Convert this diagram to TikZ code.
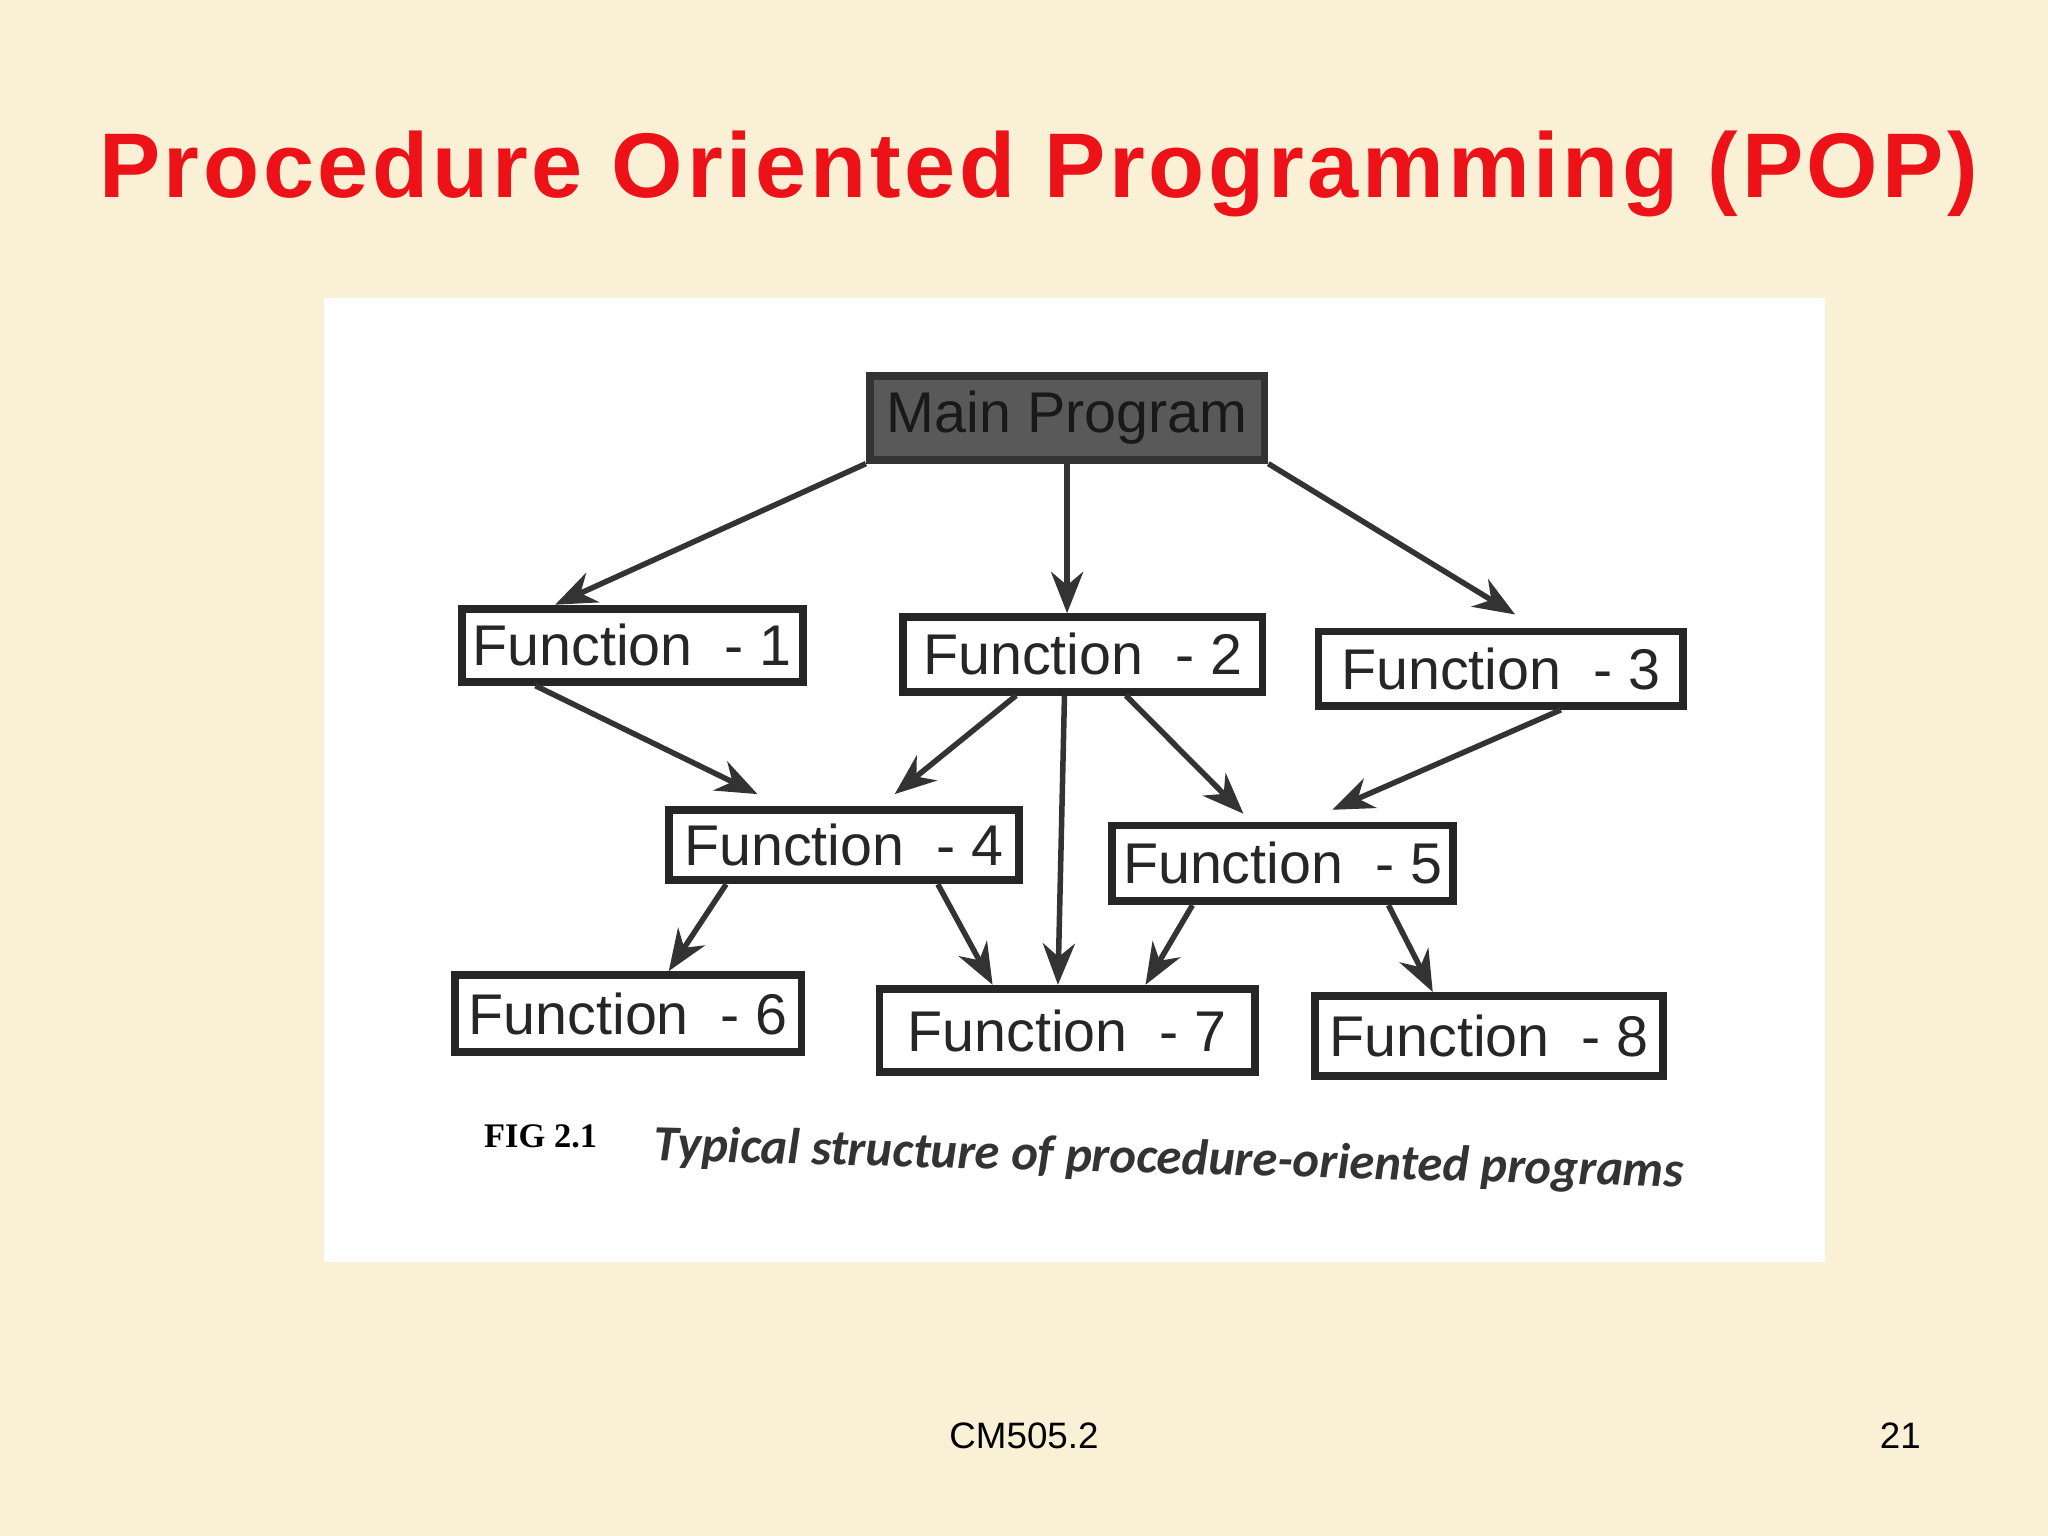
\documentclass[tikz,border=0pt]{standalone}
\usepackage{fontspec}
\setmainfont{Liberation Sans}
\newfontfamily\capserif{Liberation Serif}
\newfontfamily\capsans{Carlito}
\usetikzlibrary{arrows.meta,calc}
\definecolor{cream}{RGB}{250,240,214}
\definecolor{titlered}{RGB}{236,18,24}
\tikzset{
 fbox/.style={draw=black!85,line width=1.7pt,fill=white,inner sep=0pt,font=\fontsize{12.5}{14}\selectfont,text=black!85},
 conn/.style={draw=black!80,line width=1.2pt,-{Stealth[length=9pt,width=7pt]}}
}
\begin{document}
\begin{tikzpicture}[x=0.01cm,y=-0.01cm]
\useasboundingbox (0,0) rectangle (1568,1176);
\fill[cream] (0,0) rectangle (1568,1176);
\fill[white] (248,228) rectangle (1397,966);
\node[text=titlered,font=\bfseries\fontsize{20}{24}\selectfont\addfontfeature{LetterSpace=4}] (title) at (795,133) {Procedure Oriented Programming (POP)};
\node[fbox,fill=black!65,draw=black!80,minimum width=3.02cm,minimum height=0.64cm,text=black!90] (m) at (817,320) {Main Program};
\node[fbox,minimum width=2.61cm,minimum height=0.56cm] (f1) at (484,494) {Function\ \ - 1};
\node[fbox,minimum width=2.75cm,minimum height=0.57cm] (f2) at (829,501) {Function\ \ - 2};
\node[fbox,minimum width=2.79cm,minimum height=0.57cm] (f3) at (1149,512) {Function\ \ - 3};
\node[fbox,minimum width=2.68cm,minimum height=0.54cm] (f4) at (646,647) {Function\ \ - 4};
\node[fbox,minimum width=2.61cm,minimum height=0.58cm] (f5) at (982,661) {Function\ \ - 5};
\node[fbox,minimum width=2.65cm,minimum height=0.59cm] (f6) at (481,776) {Function\ \ - 6};
\node[fbox,minimum width=2.87cm,minimum height=0.64cm] (f7) at (817,789) {Function\ \ - 7};
\node[fbox,minimum width=2.66cm,minimum height=0.61cm] (f8) at (1140,793) {Function\ \ - 8};
\draw[conn] (m.south west) -- ([xshift=-0.59cm]f1.north);
\draw[conn] (m.south) -- (f2.north -| m.south);
\draw[conn] (m.south east) -- ([xshift=0.11cm,yshift=0.1cm]f3.north);
\draw[conn] ([xshift=-0.74cm]f1.south) -- ([xshift=-0.66cm,yshift=0.09cm]f4.north);
\draw[conn] ([xshift=-0.51cm]f2.south) -- ([xshift=0.39cm,yshift=0.09cm]f4.north);
\draw[conn] ([xshift=-0.14cm]f2.south) -- ([xshift=-0.07cm]f7.north);
\draw[conn] ([xshift=0.33cm]f2.south) -- ([xshift=-0.30cm,yshift=0.06cm]f5.north);
\draw[conn] ([xshift=0.46cm]f3.south) -- ([xshift=0.38cm,yshift=0.09cm]f5.north);
\draw[conn] ([xshift=-0.90cm]f4.south) -- ([xshift=0.31cm]f6.north);
\draw[conn] ([xshift=0.72cm]f4.south) -- ([xshift=-0.57cm]f7.north);
\draw[conn] ([xshift=-0.69cm]f5.south) -- ([xshift=0.60cm]f7.north);
\draw[conn] ([xshift=0.81cm]f5.south) -- ([xshift=-0.43cm]f8.north);
\node[anchor=west,inner sep=0pt,font=\capserif\bfseries\fontsize{7.5}{9}\selectfont] (fig) at (370,870) {FIG 2.1};
\node[anchor=west,inner sep=0pt,rotate=-1.5,font=\capsans\itshape\bfseries\fontsize{11}{12}\selectfont,text=black!80] (cap) at (500,878) {Typical structure of procedure-oriented programs};
\node[font=\fontsize{8}{9}\selectfont] (foot) at (784,1099) {CM505.2};
\node[font=\fontsize{8}{9}\selectfont] (num) at (1455,1099) {21};
\end{tikzpicture}
\end{document}
